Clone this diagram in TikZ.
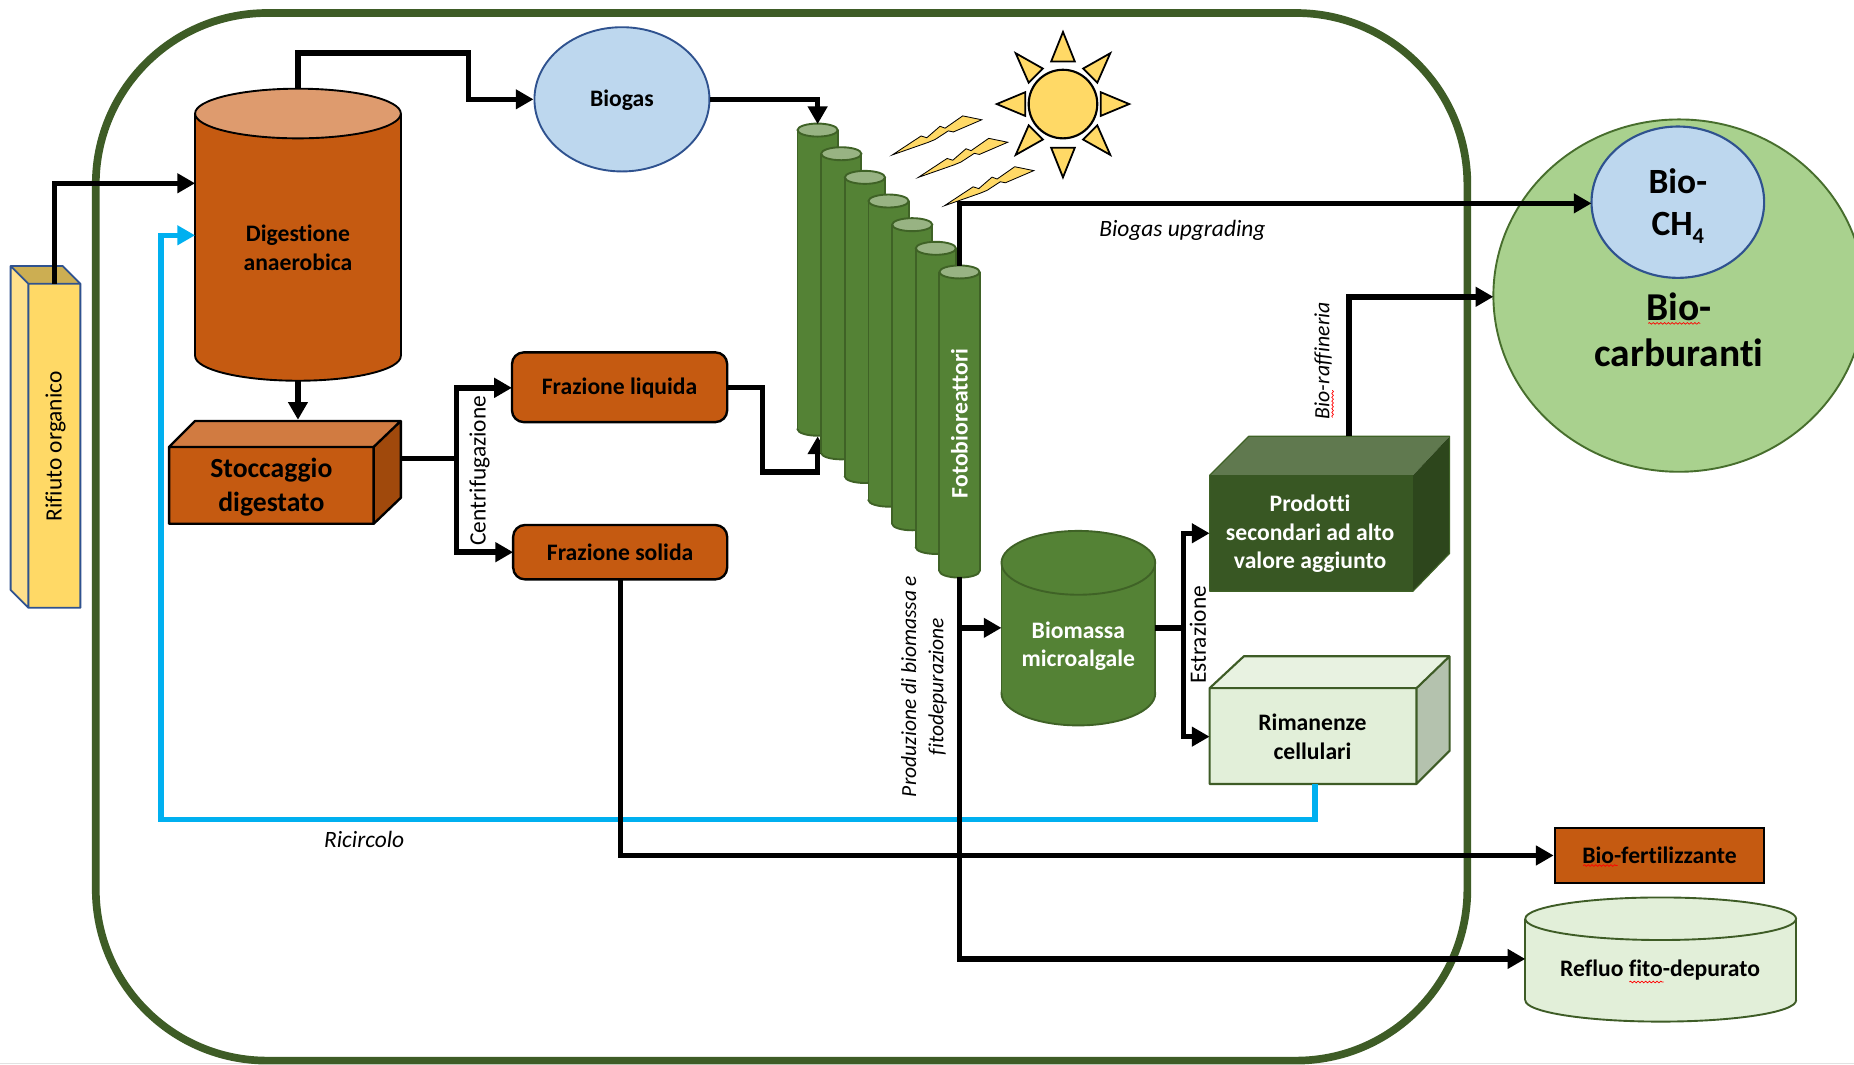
\documentclass[tikz,border=0pt]{standalone}
\usepackage{fontspec}
\setmainfont{Carlito}[Ligatures=NoCommon]
\usetikzlibrary{arrows.meta,shapes.geometric,decorations.pathmorphing,calc}
\definecolor{frame}{HTML}{3E5C26}
\definecolor{rust}{HTML}{C55A11}
\definecolor{rusttop}{HTML}{DE9B6E}
\definecolor{rustlight}{HTML}{D17B41}
\definecolor{rustdark}{HTML}{A0490C}
\definecolor{algae}{HTML}{548235}
\definecolor{algaetop}{HTML}{98B383}
\definecolor{algaeline}{HTML}{3F6226}
\definecolor{deep}{HTML}{385723}
\definecolor{deeptop}{HTML}{60794F}
\definecolor{deepside}{HTML}{2D461C}
\definecolor{pale}{HTML}{E2EFD9}
\definecolor{paletop}{HTML}{E8F2E1}
\definecolor{paleside}{HTML}{B4C2AE}
\definecolor{sky}{HTML}{BDD7EE}
\definecolor{skyline}{HTML}{2F528F}
\definecolor{sunny}{HTML}{FFD966}
\definecolor{sunnylight}{HTML}{FFE08C}
\definecolor{sunnytop}{HTML}{CCAE52}
\definecolor{leaf}{HTML}{A9D18E}
\definecolor{recycle}{HTML}{00B0F0}
\definecolor{pagefoot}{HTML}{E2E2E2}
\tikzset{
  flowline/.style={line width=4.6pt,line join=miter,draw=black},
  flow/.style={flowline,-{Triangle[length=15pt,width=16pt]}},
  backflow/.style={line width=4.6pt,line join=miter,draw=recycle,-{Triangle[length=15pt,width=16pt]}},
  port/.style={inner sep=0pt,minimum size=0pt,outer sep=0pt},
  label/.style={inner sep=0pt,outer sep=0pt,align=center},
  bold18/.style={label,font=\fontsize{20}{24}\selectfont\bfseries},
  rustbox/.style={draw=black,line width=2pt,fill=rust,rounded corners=10pt,inner sep=0pt,bold18},
  squiggle/.style={draw=red,line width=.6pt,decorate,decoration={snake,amplitude=.7pt,segment length=3.2pt}},
  rot/.style={label,rotate=90,font=\fontsize{19.8}{24}\selectfont},
  ital/.style={label,font=\fontsize{19.8}{24}\selectfont\itshape},
}
% #1 name, #2 cx, #3 top, #4 bottom, #5 rx, #6 ry, #7 body, #8 top fill, #9 stroke
\newcommand{\tank}[9]{%
  \path[fill=#7,draw=#9,line width=1.6pt] (#2,#4) ellipse [x radius=#5pt,y radius=#6pt];
  \fill[#7] (#2-#5,#3) rectangle (#2+#5,#4);
  \draw[#9,line width=1.6pt] (#2-#5,#3) -- (#2-#5,#4) (#2+#5,#3) -- (#2+#5,#4);
  \path[fill=#8,draw=#9,line width=1.6pt] (#2,#3) ellipse [x radius=#5pt,y radius=#6pt];
  \node[port,minimum width={2*#5},minimum height={#4-#3+2*#6}] (#1) at (#2,{(#3+#4)/2}) {};
}
\newcommand{\tube}[4]{\tank{pbr#1}{#2}{#3}{#4}{17}{5.5}{algae}{algaetop}{algaeline}}
\begin{document}
\begin{tikzpicture}[x=1pt,y=-1pt]
\useasboundingbox (0,0) rectangle (1568,900);
\path[fill=white] (0,0) rectangle (1568,900);
\fill[pagefoot] (0,898.6) rectangle (1568,900);

% big circle (clipped by the page)
\begin{scope}
\clip (0,0) rectangle (1568,900);
\node[ellipse,draw=algae!85!black,line width=1.6pt,fill=leaf,inner sep=0pt,minimum width=314pt,minimum height=298pt] (biocarb) at (1420,250) {};
\end{scope}
\node[label,font=\fontsize{33.4}{39.5}\selectfont\bfseries] (biocarbtext) at (1420,279) {Bio-\\carburanti};
\draw[squiggle] (1394,273.5) -- (1438,273.5);

% frame
\draw[frame,line width=6.5pt,rounded corners=145pt] (81,11) rectangle (1241,897);

% Rifiuto organico
\fill[sunnylight] (9,225) -- (24,240) -- (24,514) -- (9,499) -- cycle;
\fill[sunnytop] (9,225) -- (53,225) -- (68,240) -- (24,240) -- cycle;
\fill[sunny] (24,240) rectangle (68,514);
\draw[skyline,line width=1.6pt,line join=round] (9,225) -- (53,225) -- (68,240) -- (68,514) -- (24,514) -- (9,499) -- cycle
  (9,225) -- (24,240) -- (68,240) (24,240) -- (24,514);
\node[port,minimum width=44pt,minimum height=274pt] (rifiuto) at (46,377) {};
\node[rot] (rifiutotext) at (47,377.5) {Rifiuto organico};

% Digestione
\tank{dig}{252}{96}{301}{87}{21}{rust}{rusttop}{black}
\node[bold18] (digtext) at (252,209.5) {Digestione\\anaerobica};
\coordinate (digin) at (165,155);
\coordinate (digrec) at (165,199);

% Biogas
\node[ellipse,draw=skyline,line width=1.6pt,fill=sky,inner sep=0pt,minimum width=148pt,minimum height=122pt] (biogas) at (526,84) {};
\node[bold18] (biogastext) at (526,85) {Biogas};

% Stoccaggio
\fill[rustlight] (143,378) -- (165,356) -- (339,356) -- (316,378) -- cycle;
\fill[rustdark] (316,378) -- (339,356) -- (339,421) -- (316,443) -- cycle;
\fill[rust] (143,378) rectangle (316,443);
\draw[black,line width=2pt,line join=round] (143,378) -- (165,356) -- (339,356) -- (339,421) -- (316,443) -- (143,443) -- cycle
  (143,378) -- (316,378) -- (316,443) (316,378) -- (339,356);
\node[port,minimum width=196pt,minimum height=87pt] (stock) at (241,399.5) {};
\node[label,font=\fontsize{23.4}{28}\selectfont\bfseries] (stocktext) at (229.5,412) {Stoccaggio\\digestato};
\coordinate (stockout) at (339,388);
\coordinate (stockin) at (252,355);

% Fractions
\node[rustbox,minimum width=182pt,minimum height=59pt] (fliq) at (524,327.5) {};
\node[bold18] (fliqtext) at (524,328.5) {Frazione liquida};
\node[rustbox,minimum width=181pt,minimum height=46pt] (fsol) at (524.5,467) {};
\node[bold18] (fsoltext) at (524.5,467.5) {Frazione solida};

% Photobioreactors
\tube{1}{691.5}{110}{363}
\coordinate (pbrtop) at (691.5,105);
\coordinate (pbrbot) at (691.5,369);
\draw[flow] (fliq.east) -- (645,327.5) |- (691.5,399) -- (pbrbot);
\tube{2}{711.5}{130}{383}
\tube{3}{731.5}{150}{403}
\tube{4}{751.5}{170}{423}
\tube{5}{771.5}{190}{443}
\tube{6}{791.5}{210}{463}
\tube{7}{811.5}{230}{483}
\node[label,rotate=90,text=white,font=\fontsize{20}{24}\selectfont\bfseries] (pbrtext) at (811.3,358) {Fotobioreattori};

% Sun
\node[circle,draw=black,line width=1.8pt,fill=sunny,inner sep=0pt,minimum size=58pt] (sun) at (899,88) {};
\foreach \a/\b/\c in {{899,27}/{889,52}/{909,52},{899,150}/{889,125}/{909,125},{843,88}/{867,78}/{867,98},{955,88}/{931,78}/{931,98},{939,45}/{916,58}/{928,70},{859,45}/{882,58}/{870,70},{939,131}/{916,118}/{928,106},{859,131}/{882,118}/{870,106}}
  \draw[black,fill=sunny,line width=1.5pt,line join=miter] (\a) -- (\b) -- (\c) -- cycle;
\foreach \dx/\dy in {0/0,22/19,44/43}
  \draw[black,fill=sunny,line width=.7pt,shift={(\dx,\dy)}] (754.7,131) -- (779,115) -- (783.8,116.5) -- (795,106.8) -- (799.3,108.4) -- (814.2,98) -- (830.3,101.3) -- (806.3,111.6) -- (802,110.7) -- (790.8,118) -- (785,120.4) -- cycle;

% Biomass
\tank{biomass}{912}{476}{586.5}{65}{27}{algae}{algae}{algaeline}
\node[bold18,text=white] (biomasstext) at (912,546.5) {Biomassa\\microalgale};

% Prodotti
\fill[deeptop] (1023,402) -- (1056,369) -- (1226,369) -- (1195,402) -- cycle;
\fill[deepside] (1195,402) -- (1226,369) -- (1226,468) -- (1195,500) -- cycle;
\fill[deep] (1023,402) rectangle (1195,500);
\draw[algaeline,line width=1pt,line join=round] (1023,402) -- (1056,369) -- (1226,369) -- (1226,468) -- (1195,500) -- (1023,500) -- cycle;
\node[port,minimum width=203pt,minimum height=131pt] (prod) at (1124.5,434.5) {};
\node[bold18,text=white] (prodtext) at (1108,451.5) {Prodotti\\secondari ad alto\\valore aggiunto};
\coordinate (prodin) at (1023,451);
\coordinate (prodout) at (1141,369);

% Rimanenze
\fill[paletop] (1023,582) -- (1052,555) -- (1226,555) -- (1198,582) -- cycle;
\fill[paleside] (1198,582) -- (1226,555) -- (1226,635) -- (1198,663) -- cycle;
\fill[pale] (1023,582) rectangle (1198,663);
\draw[frame,line width=1.8pt,line join=round] (1023,582) -- (1052,555) -- (1226,555) -- (1226,635) -- (1198,663) -- (1023,663) -- cycle
  (1023,582) -- (1198,582) -- (1198,663) (1198,582) -- (1226,555);
\node[port,minimum width=203pt,minimum height=108pt] (rim) at (1124.5,609) {};
\node[bold18] (rimtext) at (1110,623) {Rimanenze\\cellulari};
\coordinate (rimin) at (1023,623);
\coordinate (rimout) at (1112,663);

% Bio-CH4
\node[ellipse,draw=skyline,line width=1.8pt,fill=sky,inner sep=0pt,minimum width=146pt,minimum height=128pt] (ch) at (1419,171) {};
\node[label,font=\fontsize{30}{35.5}\selectfont\bfseries] (chtext) at (1419,174.5) {Bio-\\CH\raisebox{-.22em}{\fontsize{19}{19}\selectfont 4}};

% Outputs
\node[draw=black,line width=2pt,fill=rust,inner sep=0pt,minimum width=177pt,minimum height=47pt] (fert) at (1403.5,723.5) {};
\node[bold18] (ferttext) at (1403.5,723.5) {Bio-fertilizzante};
\draw[squiggle] (1339,732) -- (1368,732);
\tank{refluo}{1404.5}{777}{846}{114.5}{18}{pale}{pale}{frame}
\node[bold18] (refluotext) at (1404,820.5) {Refluo fito-depurato};
\draw[squiggle] (1378,830.5) -- (1407,830.5);

% Connectors
\coordinate (dtop) at (252,75);
\coordinate (pbr7top) at (811.5,225);
\coordinate (pbr7bot) at (811.5,488);
\coordinate (biomassin) at (847,531);
\coordinate (biomassout) at (977,531);
\coordinate (fsolout) at (525,490);
\coordinate (refluoin) at (1290,811);
\coordinate (biocarbin) at (1263,251);
\coordinate (chin) at (1346,172);
\coordinate (fliqin) at (433,328);
\coordinate (fsolin) at (434,467);

\draw[flow] (46,240) |- (digin);
\draw[backflow] (rimout) -- (1112,693) -| (136,199) -- (digrec);
\draw[flow] (dtop) -- (252,45) -| (396,84) -- (biogas.west);
\draw[flow] (biogas.east) -| (pbrtop);
\draw[flow] (dig.south) -- (stockin);
\draw[flowline] (stockout) -- (386,388);
\draw[flow] (386,388) |- (fliqin);
\draw[flow] (386,388) |- (fsolin);
\draw[flow] (pbr7top) |- (chin);
\draw[flow] (pbr7bot) |- (refluoin);
\draw[flow] (811.5,531) -- (biomassin);
\draw[flowline] (biomassout) -- (1001,531);
\draw[flow] (1001,531) |- (prodin);
\draw[flow] (1001,531) |- (rimin);
\draw[flow] (prodout) |- (biocarbin);
\draw[flow] (fsolout) |- (fert.west);

% Labels
\node[rot] (centrifuga) at (405.5,398) {Centrifugazione};
\node[rot] (estrazione) at (1013,537) {Estrazione};
\node[ital] (upgrading) at (1000,194.5) {Biogas upgrading};
\node[ital] (ricircolo) at (308,710) {Ricircolo};
\node[ital,rotate=90,font=\fontsize{18.2}{23}\selectfont\itshape] (produzione) at (781.5,580.5) {Produzione di biomassa e\\fitodepurazione};
\node[ital,rotate=90,font=\fontsize{18.4}{23}\selectfont\itshape] (raffineria) at (1119,305) {Bio-raffineria};
\draw[squiggle] (1127,353) -- (1127,330);
\end{tikzpicture}
\end{document}
